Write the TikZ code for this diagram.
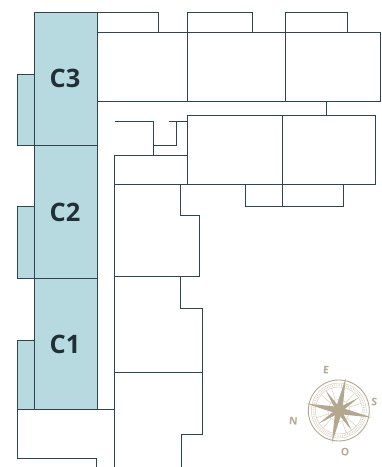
\documentclass[tikz,border=0pt]{standalone}
\usepackage{fontspec}
\setmainfont{Open Sans}
\definecolor{wall}{HTML}{2F444D}
\definecolor{teal}{HTML}{B7D9E0}
\definecolor{brass}{HTML}{B3A78F}
\definecolor{brasslt}{HTML}{D6CFC0}
\tikzset{
  plan/.style={draw=wall,line width=0.95bp,line join=miter},
  unit/.style={plan,fill=teal},
  unitlabel/.style={text=wall!70!black,font=\fontsize{25.5}{26}\selectfont\bfseries,inner sep=0pt},
  compassletter/.style={text=brass,font=\fontsize{10.5}{11}\selectfont\bfseries,inner sep=0pt},
  ring/.style={draw=brass,line width=0.9bp},
  thinring/.style={draw=brasslt,line width=0.5bp},
  point/.style={fill=brass,draw=none}
}
\begin{document}
\begin{tikzpicture}[x=1bp,y=-1bp]
\useasboundingbox (0,0) rectangle (381,467);
% teal units
\path[unit] (34.5,12.5) rectangle (97.5,145);
\path[unit] (34.5,145) rectangle (97.5,278.5);
\path[unit] (34.5,278.5) rectangle (97.5,409);
\path[unit] (17,74.5) rectangle (34.5,145);
\path[unit] (17,206.5) rectangle (34.5,278.5);
\path[unit] (17,340) rectangle (34.5,409);
\node[unitlabel] (c3) at (65,78.5) {C3};
\node[unitlabel] (c2) at (65,212.8) {C2};
\node[unitlabel] (c1) at (65,344) {C1};
% bottom-left block
\draw[plan] (97.5,409) -- (114.5,409);
\draw[plan] (17,409) -- (17,458) -- (96.5,458) -- (96.5,467);
% top row
\draw[plan] (97.5,32) -- (380,32) -- (380,101.5) -- (97.5,101.5);
\draw[plan] (187.7,32) -- (187.7,101.5);
\draw[plan] (285,32) -- (285,101.5);
\draw[plan] (97.5,12.5) -- (158.7,12.5) -- (158.7,32);
\draw[plan] (187.7,32) -- (187.7,12.5) -- (252.7,12.5) -- (252.7,32);
\draw[plan] (285,32) -- (285,12.5) -- (347,12.5) -- (347,32);
\draw[plan] (326,101.5) -- (326,115.5);
% second block
\draw[plan] (187.7,115.5) rectangle (375.5,184);
\draw[plan] (282,115.5) -- (282,206);
\draw[plan] (245,184) -- (245,206) -- (343,206) -- (343,184);
% corridor details
\draw[plan] (114.5,121) -- (153.5,121) -- (153.5,155);
\draw[plan] (153.5,145) -- (176,145) -- (176,121);
\draw[plan] (168.5,121) -- (187.7,121);
\draw[plan] (187.7,155) -- (114.5,155) -- (114.5,467);
\draw[plan] (114.5,184) -- (187.7,184);
% right side of the column
\draw[plan] (180.5,184) -- (180.5,215) -- (199.5,215) -- (199.5,276.5) -- (114.5,276.5);
\draw[plan] (180.5,276.5) -- (180.5,308) -- (202.5,308) -- (202.5,434.7) -- (181.3,434.7) -- (181.3,467);
\draw[plan] (114.5,372.5) -- (202.5,372.5);
% compass
\begin{scope}[shift={(338.8,410.5)}]
  \draw[ring] (0,0) circle (30.5);
  \draw[thinring] (0,0) circle (27.5);
  \draw[thinring,dash pattern=on 0.6bp off 1.2bp,line width=1.6bp] (0,0) circle (25.5);
  \draw[thinring] (0,0) circle (23.5);
  \draw[thinring] (0,0) circle (11);
  \foreach \a in {0,30,...,330} \draw[thinring] (\a+12:11) -- (\a+12:23.5);
  \begin{scope}[rotate=-12]
    \foreach \a in {45,135,225,315}
      \fill[point] (\a:24) -- (\a+90:2.6) -- (\a-90:2.6) -- cycle;
    \foreach \a in {0,90,180,270}
      \fill[point] (\a:33.5) -- (\a+45:4.6) -- (\a-45:4.6) -- cycle;
  \end{scope}
\end{scope}
\node[compassletter,rotate=-5] (e) at (326,370) {E};
\node[compassletter,rotate=-5] (s) at (374.3,402.3) {S};
\node[compassletter,rotate=-5] (o) at (345,452) {O};
\node[compassletter,rotate=-5] (n) at (293.5,420.7) {N};
\end{tikzpicture}
\end{document}
